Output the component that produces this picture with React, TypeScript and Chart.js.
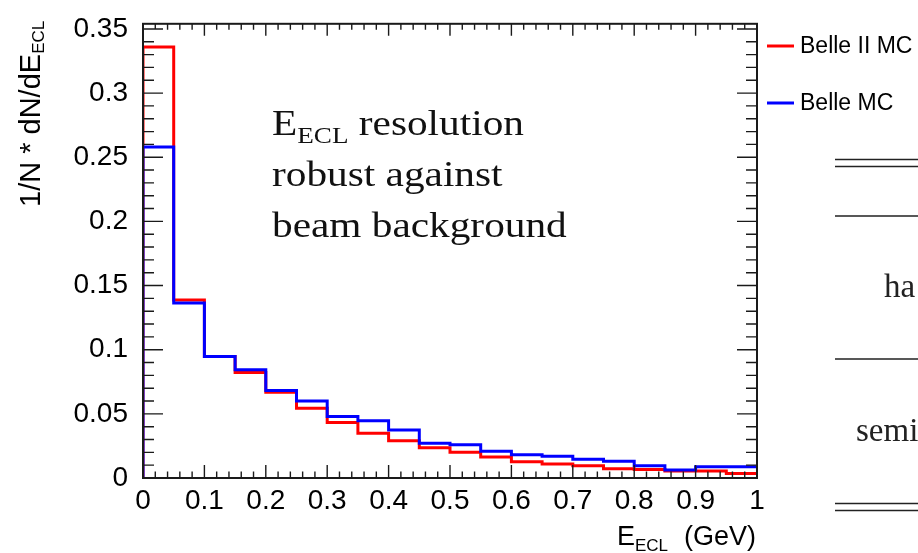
import React, { useEffect, useRef } from "react";
import { Chart, registerables } from "chart.js";

Chart.register(...registerables);

// ---- data ----
const binLowEdges = [0, 0.05, 0.1, 0.15, 0.2, 0.25, 0.3, 0.35, 0.4, 0.45, 0.5, 0.55, 0.6, 0.65, 0.7, 0.75, 0.8, 0.85, 0.9, 0.95];
const binWidth = 0.05;
const belle2MC = [0.336, 0.1387, 0.0946, 0.0823, 0.0669, 0.0544, 0.0433, 0.0349, 0.029, 0.0236, 0.02, 0.0164, 0.0126, 0.011, 0.0095, 0.0072, 0.0067, 0.0054, 0.0054, 0.0036];
const belleMC = [0.258, 0.1364, 0.0946, 0.0843, 0.0682, 0.06, 0.048, 0.0446, 0.0374, 0.027, 0.0259, 0.0208, 0.0182, 0.0169, 0.0146, 0.0131, 0.0095, 0.0062, 0.0087, 0.0087];
const seriesNames = ["Belle II MC", "Belle MC"];
const seriesColors = ["#ff0000", "#0000ff"];
const xTickValues = [0, 0.1, 0.2, 0.3, 0.4, 0.5, 0.6, 0.7, 0.8, 0.9, 1];
const xTickLabels = ["0", "0.1", "0.2", "0.3", "0.4", "0.5", "0.6", "0.7", "0.8", "0.9", "1"];
const yTickValues = [0, 0.05, 0.1, 0.15, 0.2, 0.25, 0.3, 0.35];
const yTickLabels = ["0", "0.05", "0.1", "0.15", "0.2", "0.25", "0.3", "0.35"];
const xRange = [0, 1];
const yRange = [0, 0.354];
const yTitle = ["1/N * dN/dE", "ECL"];
const xTitle = ["E", "ECL", "(GeV)"];
const noteLine1 = ["E", "ECL", " resolution"];
const noteLines = ["robust against", "beam background"];
const tableWords = ["ha", "semi"];

const SANS = "'Liberation Sans', Arial, Helvetica, sans-serif";
const SERIF = "'Liberation Serif', 'Times New Roman', serif";

function histPoints(values: number[]) {
  const pts: { x: number; y: number }[] = [{ x: binLowEdges[0], y: 0 }];
  values.forEach((v, i) => {
    pts.push({ x: binLowEdges[i], y: v });
    pts.push({ x: binLowEdges[i] + binWidth, y: v });
  });
  return pts;
}

function drawRich(ctx: CanvasRenderingContext2D, x: number, y: number, parts: { text: string; font: string; dy?: number }[], sx = 1) {
  ctx.save();
  ctx.translate(x, y);
  ctx.scale(sx, 1);
  let cx = 0;
  for (const p of parts) {
    ctx.font = p.font;
    ctx.fillText(p.text, cx, p.dy || 0);
    cx += ctx.measureText(p.text).width;
  }
  ctx.restore();
}

const decorPlugin = {
  id: "decor",
  afterDatasetsDraw(chart: any) {
    const { ctx, chartArea: a, scales } = chart;
    const x = scales.x;
    const y = scales.y;
    ctx.save();
    ctx.strokeStyle = "#1a1a1a";
    ctx.lineWidth = 1.4;
    ctx.beginPath();
    for (let i = 0; i <= 50; i++) {
      const px = x.getPixelForValue(i * 0.02);
      const major = i % 5 === 0;
      ctx.moveTo(px, a.bottom);
      ctx.lineTo(px, a.bottom - (major ? 13 : 6.5));
      ctx.moveTo(px, a.top);
      ctx.lineTo(px, a.top + (major ? 12 : 6));
    }
    for (let i = 0; i <= 35; i++) {
      const py = y.getPixelForValue(i * 0.01);
      const major = i % 5 === 0;
      const len = major ? 20 : 11;
      ctx.moveTo(a.left, py);
      ctx.lineTo(a.left + len, py);
      ctx.moveTo(a.right, py);
      ctx.lineTo(a.right - len, py);
    }
    ctx.stroke();
    ctx.lineWidth = 2;
    ctx.strokeRect(a.left, a.top, a.right - a.left, a.bottom - a.top);
    ctx.restore();
  },
  afterDraw(chart: any) {
    const { ctx } = chart;
    ctx.save();
    ctx.fillStyle = "#000";
    ctx.textBaseline = "alphabetic";
    ctx.textAlign = "left";

    // y-axis title (rotated)
    ctx.save();
    ctx.translate(40, 207);
    ctx.rotate(-Math.PI / 2);
    drawRich(ctx, 0, 0, [
      { text: yTitle[0], font: `29px ${SANS}` },
      { text: yTitle[1], font: `17px ${SANS}`, dy: 4 },
    ]);
    ctx.restore();

    // x-axis title
    drawRich(ctx, 617, 545, [
      { text: xTitle[0], font: `27px ${SANS}` },
      { text: xTitle[1], font: `17px ${SANS}`, dy: 6 },
    ]);
    ctx.font = `27px ${SANS}`;
    ctx.textAlign = "right";
    ctx.fillText(xTitle[2], 756, 545);
    ctx.textAlign = "left";

    // legend
    const legendY = [46, 103];
    seriesNames.forEach((name, i) => {
      ctx.strokeStyle = seriesColors[i];
      ctx.lineWidth = 3;
      ctx.beginPath();
      ctx.moveTo(767, legendY[i]);
      ctx.lineTo(794, legendY[i]);
      ctx.stroke();
      ctx.font = `23px ${SANS}`;
      ctx.textBaseline = "middle";
      ctx.fillText(name, 800, legendY[i] + 1);
    });
    ctx.textBaseline = "alphabetic";

    // annotation
    ctx.fillStyle = "#111";
    const sx = 1.18;
    drawRich(ctx, 272, 135, [
      { text: noteLine1[0], font: `35px ${SERIF}` },
      { text: noteLine1[1], font: `23px ${SERIF}`, dy: 8 },
      { text: noteLine1[2], font: `35px ${SERIF}` },
    ], sx);
    drawRich(ctx, 272, 186, [{ text: noteLines[0], font: `35px ${SERIF}` }], sx);
    drawRich(ctx, 272, 237, [{ text: noteLines[1], font: `35px ${SERIF}` }], sx);

    // partial table on the right
    ctx.strokeStyle = "#222";
    ctx.lineWidth = 1.6;
    ctx.beginPath();
    [159.5, 166.5, 216, 359, 503.5, 510.5].forEach((yy) => {
      ctx.moveTo(835, yy);
      ctx.lineTo(918, yy);
    });
    ctx.stroke();
    ctx.fillStyle = "#222";
    ctx.font = `33px ${SERIF}`;
    ctx.fillText(tableWords[0], 884, 297);
    ctx.fillText(tableWords[1], 856, 441);
    ctx.restore();
  },
};

export default function App() {
  const ref = useRef<HTMLCanvasElement | null>(null);
  useEffect(() => {
    if (!ref.current) return;
    const chart = new Chart(ref.current, {
      type: "line",
      data: {
        datasets: [
          {
            label: seriesNames[0],
            data: histPoints(belle2MC),
            borderColor: seriesColors[0],
            borderWidth: 3,
            pointRadius: 0,
            fill: false,
            tension: 0,
            order: 2,
          },
          {
            label: seriesNames[1],
            data: histPoints(belleMC),
            borderColor: seriesColors[1],
            borderWidth: 3,
            pointRadius: 0,
            fill: false,
            tension: 0,
            order: 1,
          },
        ],
      },
      options: {
        animation: false,
        responsive: false,
        events: [],
        layout: { padding: { left: 0, top: 19, right: 161, bottom: 0 } },
        plugins: { legend: { display: false }, tooltip: { enabled: false }, title: { display: false } },
        scales: {
          x: {
            type: "linear",
            min: xRange[0],
            max: xRange[1],
            grid: { display: false },
            border: { display: false },
            afterBuildTicks: (s: any) => {
              s.ticks = xTickValues.map((value) => ({ value }));
            },
            afterFit: (s: any) => {
              s.height = 75;
            },
            ticks: {
              autoSkip: false,
              maxRotation: 0,
              padding: -2,
              color: "#000",
              font: { family: SANS, size: 28 },
              callback: (_v: any, i: number) => xTickLabels[i],
            },
          },
          y: {
            type: "linear",
            min: yRange[0],
            max: yRange[1],
            grid: { display: false },
            border: { display: false },
            afterBuildTicks: (s: any) => {
              s.ticks = yTickValues.map((value) => ({ value }));
            },
            afterFit: (s: any) => {
              s.width = 143;
            },
            ticks: {
              autoSkip: false,
              padding: 7,
              color: "#000",
              font: { family: SANS, size: 28 },
              callback: (_v: any, i: number) => yTickLabels[i],
            },
          },
        },
      },
      plugins: [decorPlugin],
    } as any);
    return () => chart.destroy();
  }, []);
  return (
    <div style={{ position: "absolute", left: 0, top: 0, width: 918, height: 553, background: "#fff" }}>
      <canvas ref={ref} width={918} height={553} />
    </div>
  );
}
